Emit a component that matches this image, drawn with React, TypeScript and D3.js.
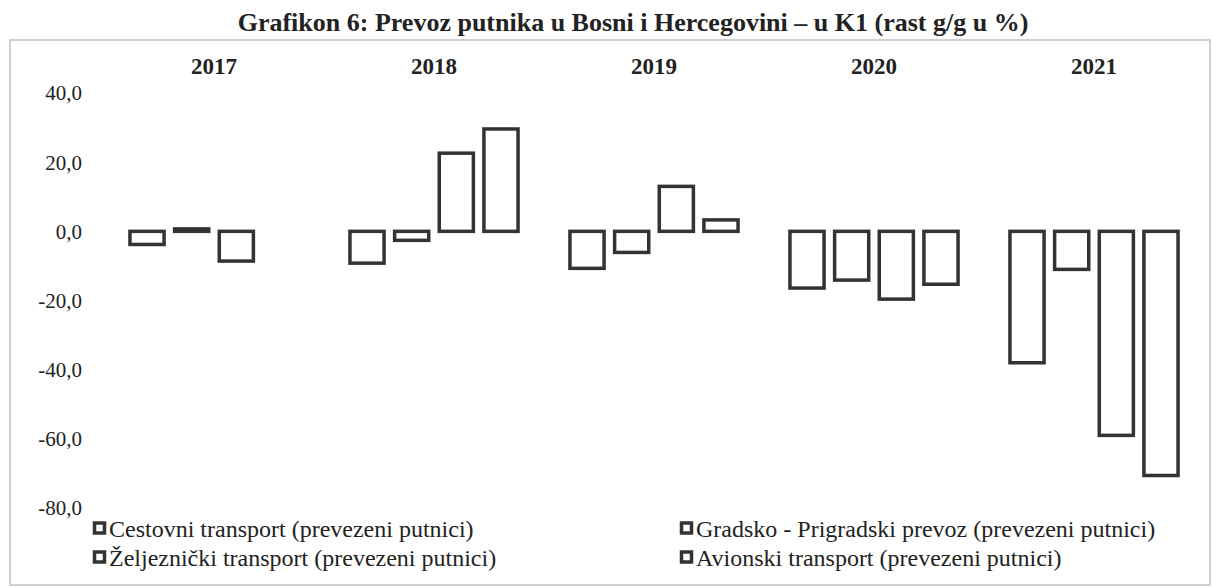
import { useMemo } from "react";
import * as d3 from "d3";

const WIDTH = 1212;
const HEIGHT = 588;

const TITLE = "Grafikon 6: Prevoz putnika u Bosni i Hercegovini – u K1 (rast g/g u %)";
const years = ["2017", "2018", "2019", "2020", "2021"];
const seriesNames = [
  "Cestovni transport (prevezeni putnici)",
  "Gradsko - Prigradski prevoz (prevezeni putnici)",
  "Željeznički transport (prevezeni putnici)",
  "Avionski transport (prevezeni putnici)",
];
// one array per series, values for 2017..2021 (null = no data)
const cestovni = [-3.8, -9.2, -10.7, -16.4, -38.0];
const gradsko = [0.7, -2.6, -6.1, -14.1, -11.0];
const zeljeznicki = [-8.6, 22.6, 13.0, -19.6, -59.0];
const avionski = [null, 29.6, 3.3, -15.3, -70.6];
const yTicks = [40, 20, 0, -20, -40, -60, -80];

const seriesValues = [cestovni, gradsko, zeljeznicki, avionski];

const FONT = "'Liberation Serif', 'Times New Roman', serif";
const STROKE = "#333333";

const App = () => {
  const x0 = useMemo(
    () => d3.scaleBand().domain(years).range([104, 1204]).paddingInner(0.236).paddingOuter(0.118),
    []
  );
  const x1 = useMemo(
    () => d3.scaleBand().domain(seriesNames).range([0, x0.bandwidth()]).paddingInner(0.236),
    [x0]
  );
  const y = useMemo(() => d3.scaleLinear().domain([-80, 40]).range([508, 93]), []);
  const fmt = (v) => d3.format(".1f")(v).replace(".", ",").replace("−", "-");

  const bars = [];
  seriesValues.forEach((vals, si) => {
    vals.forEach((v, yi) => {
      if (v === null) return;
      const bx = x0(years[yi]) + x1(seriesNames[si]);
      const top = y(Math.max(0, v));
      const h = Math.abs(y(v) - y(0));
      bars.push(
        <rect
          key={`${si}-${yi}`}
          x={bx}
          y={top}
          width={x1.bandwidth()}
          height={h}
          fill="#ffffff"
          stroke={STROKE}
          strokeWidth={3.5}
        />
      );
    });
  });

  const legendPos = [
    { x: 93, y: 529 },
    { x: 680, y: 529 },
    { x: 93, y: 558 },
    { x: 680, y: 558 },
  ];

  return (
    <svg
      width={WIDTH}
      height={HEIGHT}
      style={{ position: "absolute", left: 0, top: 0, background: "#fff" }}
      fontFamily={FONT}
    >
      <rect x={10} y={40} width={1200} height={545} fill="none" stroke="#cfcfcf" strokeWidth={2} />
      <text x={633} y={31} textAnchor="middle" fontSize={26} fontWeight="bold" fill="#222">
        {TITLE}
      </text>
      {years.map((yr) => (
        <text
          key={yr}
          x={x0(yr) + x0.bandwidth() / 2}
          y={74}
          textAnchor="middle"
          fontSize={23}
          fontWeight="bold"
          fill="#222"
        >
          {yr}
        </text>
      ))}
      {yTicks.map((t) => (
        <text key={t} x={82} y={y(t)} dy="0.35em" textAnchor="end" fontSize={21} fill="#222">
          {fmt(t)}
        </text>
      ))}
      {bars}
      {seriesNames.map((name, i) => (
        <g key={name} transform={`translate(${legendPos[i].x},${legendPos[i].y})`}>
          <rect x={1.5} y={-6} width={10} height={10} fill="#fff" stroke={STROKE} strokeWidth={3.5} />
          <text x={16} y={0} dy="0.35em" fontSize={24} fill="#222">
            {name}
          </text>
        </g>
      ))}
    </svg>
  );
};

export default App;
